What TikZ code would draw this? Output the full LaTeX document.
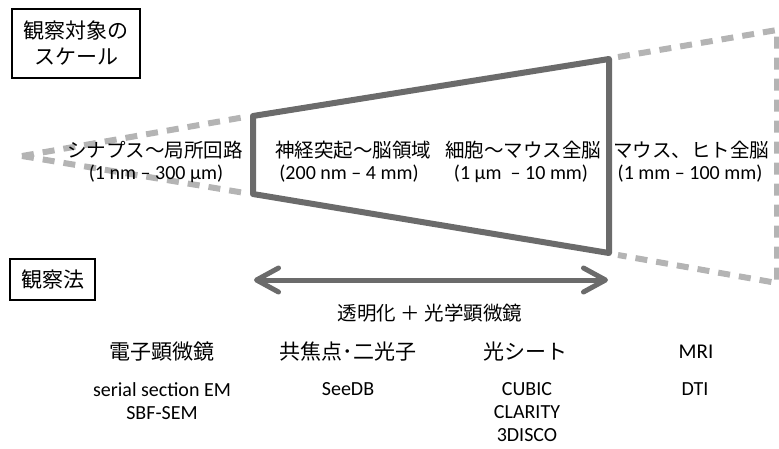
\documentclass[tikz,border=0pt]{standalone}
\usepackage{fontspec}
\setmainfont{Carlito}
\newfontfamily\jp{Noto Sans CJK JP}
\usetikzlibrary{arrows.meta}
\definecolor{dk}{HTML}{6B6B6B}
\definecolor{lt}{HTML}{B4B4B4}
\begin{document}
\begin{tikzpicture}[x=1pt,y=-1pt,
  solidline/.style={draw=dk,line width=6pt,line join=round,line cap=round},
  dashline/.style={draw=lt,line width=6pt,dash pattern=on 12pt off 9pt},
  arrowline/.style={draw=dk,line width=5pt,line cap=round,
    {Straight Barb[length=22pt,width=24pt,round]}-{Straight Barb[length=22pt,width=24pt,round]}},
  labelbox/.style={draw=black,line width=1.3pt,inner sep=0pt,minimum height=0pt},
  jptext/.style={font=\jp\fontsize{19.5}{22}\selectfont,inner sep=0pt},
  jpbig/.style={font=\jp\fontsize{21}{26}\selectfont,inner sep=0pt},
  rngtext/.style={font=\fontsize{20}{22}\selectfont,inner sep=0pt},
  listtext/.style={font=\fontsize{20}{23}\selectfont,inner sep=0pt,align=center,anchor=north}]
\useasboundingbox (0,0) rectangle (779,448);

% trapezoid
\coordinate (TL) at (253,116);
\coordinate (BL) at (253,194);
\coordinate (TR) at (609,59);
\coordinate (BR) at (609,253);
\draw[solidline] (TL) -- (TR) -- (BR) -- (BL) -- cycle;

% dashed extensions
\coordinate (AP) at (22,156);
\coordinate (LT) at (245,117);
\coordinate (LB) at (245,193);
\draw[dashline] (AP) -- (LT);
\draw[dashline] (AP) -- (LB);
\coordinate (RT0) at (618,57);
\coordinate (RT) at (777,30);
\coordinate (RB) at (777,283);
\coordinate (RB0) at (618,255);
\draw[dashline] (RT0) -- (RT) -- (RB) -- (RB0);

% boxes
\node[labelbox,jpbig,align=center,minimum width=128pt,minimum height=69pt] (title) at (76,43.5) {観察対象の\\スケール};
\node[labelbox,jpbig,minimum width=85pt,minimum height=41pt] (method) at (52.5,279.5) {観察法};

% scale labels
\node[jptext] (s1) at (155,150) {シナプス～局所回路};
\node[rngtext] (r1) at (156,174) {(1 nm – 300 μm)};
\node[jptext] (s2) at (353,150) {神経突起～脳領域};
\node[rngtext] (r2) at (349,174) {(200 nm – 4 mm)};
\node[jptext] (s3) at (523,150) {細胞～マウス全脳};
\node[rngtext] (r3) at (521,174) {(1 μm \ – 10 mm)};
\node[jptext] (s4) at (691,150) {マウス、ヒト全脳};
\node[rngtext] (r4) at (690,174) {(1 mm – 100 mm)};

% arrow
\coordinate (A1) at (254,280);
\coordinate (A2) at (608,280);
\draw[arrowline] (A1) -- (A2);
\node[jptext] (clear) at (430,313) {透明化 ＋ 光学顕微鏡};

% methods
\node[jpbig] (m1) at (162,352) {電子顕微鏡};
\node[jpbig] (m2) at (348,352) {共焦点･二光子};
\node[jpbig] (m3) at (525,352) {光シート};
\node[rngtext,font=\fontsize{21}{26}\selectfont] (m4) at (696,352) {MRI};

\node[listtext] (l1) at (162,382) {serial section EM\\SBF-SEM};
\node[listtext] (l2) at (348,382) {SeeDB};
\node[listtext] (l3) at (527,382) {CUBIC\\CLARITY\\3DISCO};
\node[listtext] (l4) at (695,382) {DTI};
\end{tikzpicture}
\end{document}
